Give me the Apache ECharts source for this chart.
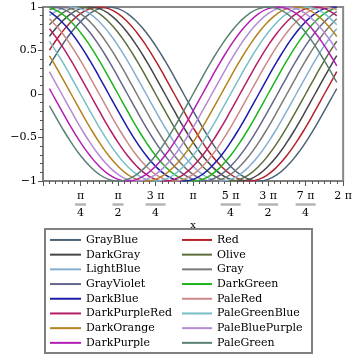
<!DOCTYPE html>
<html>
<head>
<meta charset="utf-8">
<script src="https://cdn.jsdelivr.net/npm/echarts@6/dist/echarts.min.js"></script>
<style>html,body{margin:0;padding:0;background:#fff;}#c{width:355px;height:355px;}</style>
</head>
<body>
<div id="c"></div>
<script>
// x positions (radians) where the curves were read
const X = [0.135,0.196,0.393,0.589,0.785,0.982,1.178,1.374,1.571,1.767,1.963,2.160,2.356,2.553,2.749,2.945,3.142,3.338,3.534,3.731,3.927,4.123,4.320,4.516,4.712,4.909,5.105,5.301,5.498,5.694,5.890,6.087,6.150];

const NAMES = ['GrayBlue','Red','DarkGray','Olive','LightBlue','Gray','GrayViolet','DarkGreen','DarkBlue','PaleRed','DarkPurpleRed','PaleGreenBlue','DarkOrange','PaleBluePurple','DarkPurple','PaleGreen'];
const COLORS = ['#4b6478','#b4232d','#464646','#5b6e3d','#86aed0','#7a7a7a','#66668a','#1eb41e','#1c1caa','#cc8888','#b41e64','#78bec8','#b4821e','#b48ad2','#b41eb4','#5a8274'];

const GrayBlue = [.325,.383,.556,.707,.831,.924,.981,1,.981,.924,.831,.707,.556,.383,.195,0,-.195,-.383,-.556,-.707,-.831,-.924,-.981,-1,-.981,-.924,-.831,-.707,-.556,-.383,-.195,0,.063];
const Red = [.504,.556,.707,.831,.924,.981,1,.981,.924,.831,.707,.556,.383,.195,0,-.195,-.383,-.556,-.707,-.831,-.924,-.981,-1,-.981,-.924,-.831,-.707,-.556,-.383,-.195,0,.195,.257];
const DarkGray = [.662,.707,.831,.924,.981,1,.981,.924,.831,.707,.556,.383,.195,0,-.195,-.383,-.556,-.707,-.831,-.924,-.981,-1,-.981,-.924,-.831,-.707,-.556,-.383,-.195,0,.195,.383,.440];
const Olive = [.796,.831,.924,.981,1,.981,.924,.831,.707,.556,.383,.195,0,-.195,-.383,-.556,-.707,-.831,-.924,-.981,-1,-.981,-.924,-.831,-.707,-.556,-.383,-.195,0,.195,.383,.556,.607];
const LightBlue = [.899,.924,.981,1,.981,.924,.831,.707,.556,.383,.195,0,-.195,-.383,-.556,-.707,-.831,-.924,-.981,-1,-.981,-.924,-.831,-.707,-.556,-.383,-.195,0,.195,.383,.556,.707,.750];
const Gray = [.967,.981,1,.981,.924,.831,.707,.556,.383,.195,0,-.195,-.383,-.556,-.707,-.831,-.924,-.981,-1,-.981,-.924,-.831,-.707,-.556,-.383,-.195,0,.195,.383,.556,.707,.831,.865];
const GrayViolet = [.998,1,.981,.924,.831,.707,.556,.383,.195,0,-.195,-.383,-.556,-.707,-.831,-.924,-.981,-1,-.981,-.924,-.831,-.707,-.556,-.383,-.195,0,.195,.383,.556,.707,.831,.924,.946];
const DarkGreen = [.991,.981,.924,.831,.707,.556,.383,.195,0,-.195,-.383,-.556,-.707,-.831,-.924,-.981,-1,-.981,-.924,-.831,-.707,-.556,-.383,-.195,0,.195,.383,.556,.707,.831,.924,.981,.991];
const DarkBlue = [.946,.924,.831,.707,.556,.383,.195,0,-.195,-.383,-.556,-.707,-.831,-.924,-.981,-1,-.981,-.924,-.831,-.707,-.556,-.383,-.195,0,.195,.383,.556,.707,.831,.924,.981,1,.998];
const PaleRed = [.864,.831,.707,.556,.383,.195,0,-.195,-.383,-.556,-.707,-.831,-.924,-.981,-1,-.981,-.924,-.831,-.707,-.556,-.383,-.195,0,.195,.383,.556,.707,.831,.924,.981,1,.981,.966];
const DarkPurpleRed = [.749,.707,.556,.383,.195,0,-.195,-.383,-.556,-.707,-.831,-.924,-.981,-1,-.981,-.924,-.831,-.707,-.556,-.383,-.195,0,.195,.383,.556,.707,.831,.924,.981,1,.981,.924,.898];
const PaleGreenBlue = [.605,.556,.383,.195,0,-.195,-.383,-.556,-.707,-.831,-.924,-.981,-1,-.981,-.924,-.831,-.707,-.556,-.383,-.195,0,.195,.383,.556,.707,.831,.924,.981,1,.981,.924,.831,.795];
const DarkOrange = [.439,.383,.195,0,-.195,-.383,-.556,-.707,-.831,-.924,-.981,-1,-.981,-.924,-.831,-.707,-.556,-.383,-.195,0,.195,.383,.556,.707,.831,.924,.981,1,.981,.924,.831,.707,.661];
const PaleBluePurple = [.256,.195,0,-.195,-.383,-.556,-.707,-.831,-.924,-.981,-1,-.981,-.924,-.831,-.707,-.556,-.383,-.195,0,.195,.383,.556,.707,.831,.924,.981,1,.981,.924,.831,.707,.556,.502];
const DarkPurple = [.061,0,-.195,-.383,-.556,-.707,-.831,-.924,-.981,-1,-.981,-.924,-.831,-.707,-.556,-.383,-.195,0,.195,.383,.556,.707,.831,.924,.981,1,.981,.924,.831,.707,.556,.383,.323];
const PaleGreen = [-.135,-.195,-.383,-.556,-.707,-.831,-.924,-.981,-1,-.981,-.924,-.831,-.707,-.556,-.383,-.195,0,.195,.383,.556,.707,.831,.924,.981,1,.981,.924,.831,.707,.556,.383,.195,.133];

const X_TICKS = ['', 'π/4', 'π/2', '3 π/4', 'π', '5 π/4', '3 π/2', '7 π/4', '2 π'];
const Y_TICKS = ['\u22121', '\u22120.5', '0', '0.5', '1'];

const VALUES = [GrayBlue,Red,DarkGray,Olive,LightBlue,Gray,GrayViolet,DarkGreen,DarkBlue,PaleRed,DarkPurpleRed,PaleGreenBlue,DarkOrange,PaleBluePurple,DarkPurple,PaleGreen];

const FONT = 'DejaVu Serif';
const chart = echarts.init(document.getElementById('c'), null, {renderer: 'canvas'});

const series = NAMES.map((n, i) => ({
  name: n,
  type: 'line',
  data: X.map((x, j) => [x, VALUES[i][j]]),
  smooth: true,
  symbol: 'none',
  showSymbol: false,
  lineStyle: {width: 1.5, color: COLORS[i]},
  itemStyle: {color: COLORS[i]},
  animation: false
}));

const legendCommon = {
  orient: 'vertical',
  icon: 'rect',
  itemHeight: 2,
  itemGap: 0,
  padding: 0,
  height: 120,
  selectedMode: false,
  textStyle: {fontFamily: FONT, fontSize: 11, lineHeight: 14.7, color: '#000'},
  top: 232.6
};

chart.setOption({
  animation: false,
  backgroundColor: '#fff',
  grid: {left: 43, right: 5.5, top: 7, bottom: 174, show: true, borderColor: '#888', borderWidth: 2},
  xAxis: {
    type: 'value', min: 0, max: Math.PI * 2, interval: Math.PI / 4,
    name: 'x', nameLocation: 'middle', nameGap: 39,
    nameTextStyle: {fontFamily: FONT, fontSize: 10, color: '#000'},
    axisLine: {show: true, onZero: false, lineStyle: {color: '#808080', width: 2}},
    axisTick: {show: true, length: 5, lineStyle: {color: '#555', width: 1}},
    minorTick: {show: true, splitNumber: 6, length: 3, lineStyle: {color: '#555', width: 1}},
    splitLine: {show: false},
    axisLabel: {
      margin: 8.5, showMaxLabel: true, showMinLabel: true,
      formatter: function (v) {
        const t = X_TICKS[Math.round(v / (Math.PI / 4))] || '';
        if (!t) return '';
        const p = t.split('/');
        if (p.length === 1) return '{n|' + p[0] + '}';
        return '{n|' + p[0] + '}\n{' + (p[0].length > 1 ? 'b2' : 'b1') + '| }\n{d|' + p[1] + '}';
      },
      rich: {
        n: {fontFamily: FONT, fontSize: 11, lineHeight: 13, color: '#000', align: 'center'},
        d: {fontFamily: FONT, fontSize: 11, lineHeight: 13, color: '#000', align: 'center'},
        b1: {width: 11, height: 2.5, lineHeight: 4, backgroundColor: '#b4b4b4', fontSize: 2, align: 'center'},
        b2: {width: 20, height: 2.5, lineHeight: 4, backgroundColor: '#b4b4b4', fontSize: 2, align: 'center'}
      }
    }
  },
  yAxis: {
    type: 'value', min: -1, max: 1, interval: 0.5,
    axisLine: {show: true, onZero: false, lineStyle: {color: '#808080', width: 2}},
    axisTick: {show: true, length: 5, lineStyle: {color: '#555', width: 1}},
    minorTick: {show: true, splitNumber: 5, length: 3, lineStyle: {color: '#555', width: 1}},
    splitLine: {show: false},
    axisLabel: {
      margin: 6,
      fontFamily: FONT, fontSize: 11, color: '#000',
      formatter: function (v) { return Y_TICKS[Math.round((v + 1) / 0.5)]; }
    }
  },
  legend: [
    Object.assign({}, legendCommon, {left: 50, itemWidth: 31, data: NAMES.filter((n, i) => i % 2 === 0)}),
    Object.assign({}, legendCommon, {left: 182, itemWidth: 30, data: NAMES.filter((n, i) => i % 2 === 1)})
  ],
  graphic: [{
    type: 'rect', silent: true,
    shape: {x: 45, y: 229, width: 267, height: 124},
    style: {fill: 'none', stroke: '#808080', lineWidth: 2}
  }],
  series: series
});
</script>
</body>
</html>
